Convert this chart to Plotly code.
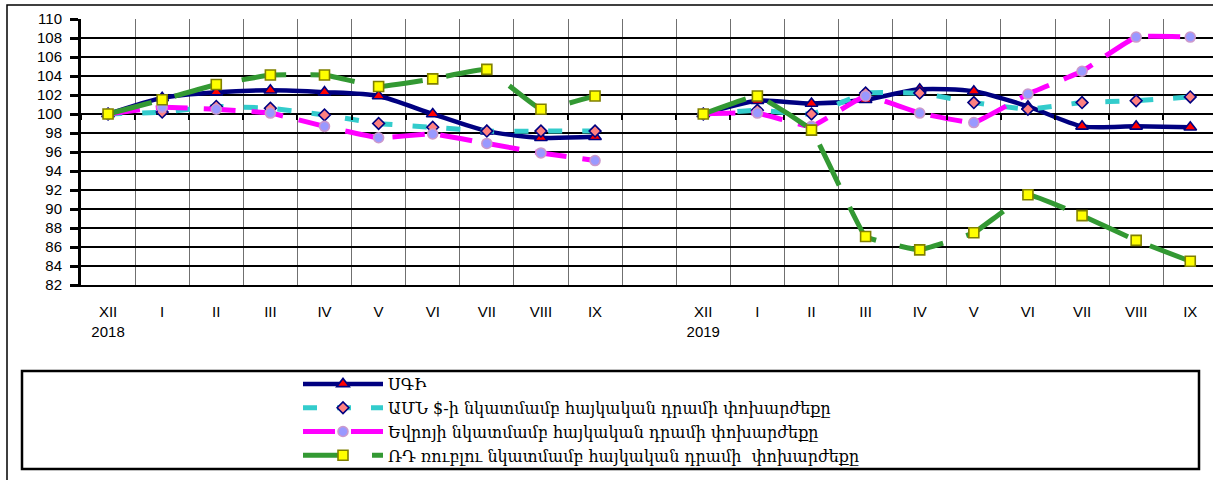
import plotly.graph_objects as go

# ---- data ----
months = ["XII", "I", "II", "III", "IV", "V", "VI", "VII", "VIII", "IX"]
years = ["2018", "2019"]

cpi_2018 = [100.0, 101.7, 102.3, 102.5, 102.3, 101.9, 100.0, 98.2, 97.5, 97.6]
cpi_2019 = [100.0, 101.4, 101.1, 101.5, 102.6, 102.4, 100.8, 98.7, 98.7, 98.6]

usd_2018 = [100.0, 100.2, 100.8, 100.6, 99.9, 99.0, 98.6, 98.2, 98.2, 98.2]
usd_2019 = [100.0, 100.4, 100.0, 102.2, 102.2, 101.2, 100.5, 101.2, 101.4, 101.8]

eur_2018 = [100.0, 100.7, 100.5, 100.1, 98.7, 97.5, 97.9, 96.9, 95.9, 95.1]
eur_2019 = [100.0, 100.1, 98.7, 101.9, 100.1, 99.1, 102.1, 104.5, 108.1, 108.1]

rub_2018 = [100.0, 101.5, 103.1, 104.1, 104.1, 102.9, 103.7, 104.7, 100.5, 101.9]
rub_2019 = [100.0, 101.9, 98.3, 87.1, 85.7, 87.5, 91.5, 89.3, 86.7, 84.5]

names = [
    "ՍԳԻ",
    "ԱՄՆ $-ի նկատմամբ հայկական դրամի փոխարժեքը",
    "Եվրոյի նկատմամբ հայկական դրամի փոխարժեքը",
    "ՌԴ ռուբլու նկատմամբ հայկական դրամի  փոխարժեքը",
]

# ---- build axis categories (one empty slot between the years) ----
tick_text = ([months[0] + "<br>" + years[0]] + months[1:] + [""]
             + [months[0] + "<br>" + years[1]] + months[1:])
x = list(range(len(tick_text)))
boundaries = [i - 0.5 for i in x] + [x[-1] + 0.5]


def join(a, b):
    return a + [None] + b


series = [
    dict(y=join(cpi_2018, cpi_2019), color="#000080", dash="solid", sm=0.7,
         sym="triangle-up", mfill="#FF0000", mline="#000080", msize=11, w=4.5),
    dict(y=join(usd_2018, usd_2019), color="#33CCCC", dash="14px,20px", sm=0.3,
         sym="diamond", mfill="#FF8080", mline="#000080", msize=9, w=5),
    dict(y=join(eur_2018, eur_2019), color="#FF00FF", dash="32px,16px", sm=0.3,
         sym="circle", mfill="#9999FF", mline="#CC99CC", msize=10, w=5),
    dict(y=join(rub_2018, rub_2019), color="#339933", dash="45px,24px", sm=0.25,
         sym="square", mfill="#FFFF00", mline="#808000", msize=10, w=5),
]

fig = go.Figure()
for s, nm in zip(series, names):
    fig.add_trace(go.Scatter(
        x=x, y=s["y"], name=nm, mode="lines+markers", connectgaps=False,
        line=dict(color=s["color"], width=s["w"], dash=s["dash"],
                  shape="spline", smoothing=s["sm"]),
        marker=dict(symbol=s["sym"], size=s["msize"], color=s["mfill"],
                    line=dict(color=s["mline"], width=1.6)),
    ))

# empty helper trace so the category axis crossing at 100 is drawn
fig.add_trace(go.Scatter(x=[], y=[], xaxis="x2", yaxis="y", showlegend=False,
                         hoverinfo="skip"))

W, H = 1213, 480
Y0, Y1 = 82, 110


# px -> paper helpers (plot area: x 81..1213, y 19..285)
def px_x(p):
    return (p - 81) / 1132.0


def px_y(p):
    return (285 - p) / 266.0


fig.update_layout(
    width=W, height=H,
    margin=dict(l=81, r=0, t=19, b=195, pad=0),
    paper_bgcolor="white", plot_bgcolor="white",
    font=dict(family="Liberation Sans, Arial, sans-serif", size=15, color="black"),
    showlegend=True,
    legend=dict(
        x=px_x(298), y=px_y(367), xanchor="left", yanchor="top",
        orientation="v", bgcolor="rgba(0,0,0,0)", borderwidth=0,
        font=dict(family="DejaVu Serif, serif", size=16, color="black"),
        tracegroupgap=0, itemwidth=80,
    ),
    xaxis=dict(
        range=[-0.5, 20.42], tickmode="array", tickvals=x, ticktext=tick_text,
        showgrid=False, zeroline=False, ticks="", ticklabelstandoff=12,
        showline=True, linecolor="black", linewidth=2, automargin=False,
        minor=dict(tickmode="array", tickvals=boundaries,
                   showgrid=True, gridcolor="#707070", gridwidth=1, ticks=""),
        tickfont=dict(size=15),
    ),
    xaxis2=dict(
        overlaying="x", anchor="free", position=(100 - Y0) / (Y1 - Y0),
        side="bottom", range=[-0.5, 20.42], tickmode="array",
        tickvals=boundaries, ticks="outside", ticklen=5, tickwidth=2,
        tickcolor="black", showticklabels=False, showgrid=False,
        zeroline=False, showline=False, automargin=False,
    ),
    yaxis=dict(
        range=[Y0, Y1], tick0=Y0, dtick=2, showgrid=True,
        gridcolor="black", gridwidth=1.6, zeroline=False, automargin=False,
        showline=True, linecolor="black", linewidth=3,
        ticks="outside", ticklen=8, tickwidth=2.5, tickcolor="black",
        ticklabelstandoff=5, tickfont=dict(size=15),
    ),
    shapes=[
        # outer chart frame
        dict(type="rect", xref="paper", yref="paper",
             x0=px_x(7), x1=px_x(1230), y0=px_y(495), y1=px_y(5),
             line=dict(color="black", width=1.5), layer="below"),
        # legend frame
        dict(type="rect", xref="paper", yref="paper",
             x0=px_x(22), x1=px_x(1199), y0=px_y(469), y1=px_y(371),
             line=dict(color="black", width=2.5)),
    ],
)

fig.write_html("out.html", config={"displayModeBar": False},
               post_script="document.body.style.margin='0';")
